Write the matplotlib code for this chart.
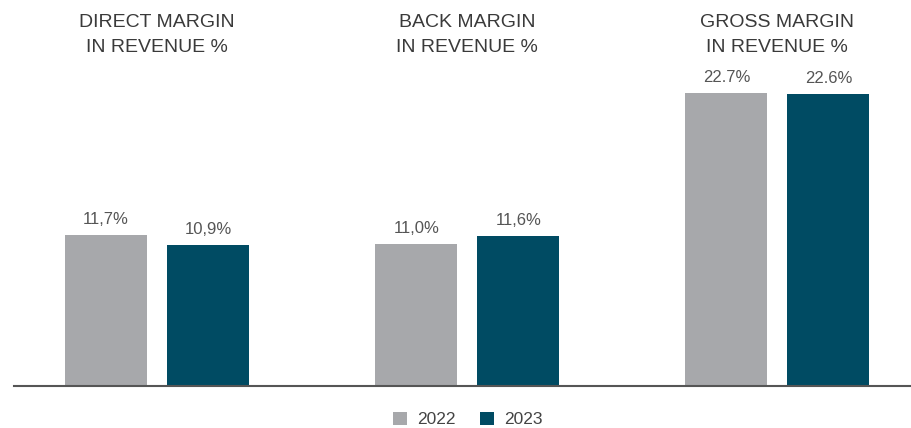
import numpy as np
import matplotlib.pyplot as plt

plt.rcParams['font.family'] = ['Liberation Sans', 'DejaVu Sans']

# data
groups = ['DIRECT MARGIN\nIN REVENUE %', 'BACK MARGIN\nIN REVENUE %', 'GROSS MARGIN\nIN REVENUE %']
vals_2022 = [11.7, 11.0, 22.7]
vals_2023 = [10.9, 11.6, 22.6]
labels_2022 = ['11,7%', '11,0%', '22.7%']
labels_2023 = ['10,9%', '11,6%', '22.6%']
years = ['2022', '2023']

c22 = '#A7A8AB'
c23 = '#004B63'

fig = plt.figure(figsize=(9.12, 4.28), dpi=100)
ax = fig.add_axes([14/912, 42/428, 898/912, 386/428])

x = np.arange(len(groups))
w = 82/310
off = 51/310
b1 = ax.bar(x - off, vals_2022, w, color=c22, label=years[0])
b2 = ax.bar(x + off, vals_2023, w, color=c23, label=years[1])

for bars, labs in [(b1, labels_2022), (b2, labels_2023)]:
    for b, t in zip(bars, labs):
        ax.annotate(t, (b.get_x() + b.get_width()/2, b.get_height()),
                    xytext=(0, 6), textcoords='offset points',
                    ha='center', va='bottom', fontsize=12, color='#555555')

ax.set_xlim(-143/310, 2 + 134.5/310)
ax.set_ylim(0, 386/12.9)

for i, g in enumerate(groups):
    ax.text(x[i], 386/12.9 - 1.1, g, ha='center', va='top', fontsize=14,
            color='#3a3a3a', linespacing=1.6)

for s in ['top', 'right', 'left']:
    ax.spines[s].set_visible(False)
ax.spines['bottom'].set_color('#555555')
ax.spines['bottom'].set_linewidth(1.5)
ax.set_xticks([])
ax.set_yticks([])

fig.legend(handles=[b1, b2], labels=years, loc='lower center', ncol=2,
           bbox_to_anchor=(468/912, -0.035), frameon=False, fontsize=12.5,
           handlelength=0.8, handleheight=0.8, columnspacing=1.4,
           handletextpad=0.6, labelcolor='#444444')

fig.savefig('out.png', dpi=100)
